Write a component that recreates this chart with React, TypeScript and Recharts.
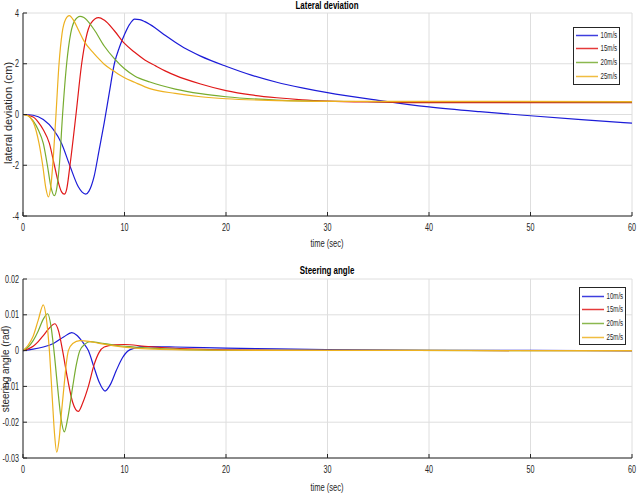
import React from 'react';
import { LineChart, Line, XAxis, YAxis, CartesianGrid } from 'recharts';

// Series identity
const speedNames = ['10m/s', '15m/s', '20m/s', '25m/s'];
const speedColors = ['#1c1cd8', '#e01818', '#77ac30', '#edb120'];

// Axis ticks
const timeTicks = [0, 10, 20, 30, 40, 50, 60];
const latTicks = [-4, -2, 0, 2, 4];
const steerTicks = [-0.03, -0.02, -0.01, 0, 0.01, 0.02];

// Lateral deviation (cm) vs time (sec)
const latT10 = [0, 1, 2, 3, 3.8, 4.6, 5.45, 5.8, 6.18, 6.5, 7, 7.5, 8, 8.5, 9, 9.5, 10, 10.5, 11, 11.5, 12, 13, 14, 15, 16, 17.5, 20, 22.5, 25, 27.5, 30, 35, 40, 45, 50, 55, 60];
const latV10 = [0, -0.03, -0.2, -0.6, -1.14, -2.0, -2.85, -3.05, -3.14, -3.02, -2.45, -1.4, -0.33, 0.85, 2.0, 2.65, 3.15, 3.55, 3.76, 3.74, 3.66, 3.42, 3.12, 2.85, 2.6, 2.3, 1.9, 1.55, 1.27, 1.05, 0.86, 0.56, 0.3, 0.11, -0.05, -0.2, -0.34];

const latT15 = [0, 1, 1.5, 2, 2.6, 3.09, 3.5, 3.8, 4.07, 4.3, 4.63, 5.22, 5.78, 6.2, 6.7, 7.45, 8, 9, 10, 11, 12, 13, 14, 15, 17.5, 20, 22.5, 25, 27.5, 30, 35, 40, 60];
const latV15 = [0, -0.1, -0.3, -0.6, -1.14, -2.0, -2.7, -3.05, -3.14, -2.95, -2.0, 0, 2.0, 3.0, 3.6, 3.82, 3.72, 3.3, 2.8, 2.45, 2.15, 1.93, 1.72, 1.54, 1.2, 0.94, 0.77, 0.66, 0.58, 0.53, 0.49, 0.47, 0.47];

const latT20 = [0, 0.5, 1, 1.5, 2, 2.4, 2.75, 3.09, 3.35, 3.6, 3.9, 4.3, 4.7, 5.1, 5.62, 6, 7, 8, 9, 10, 11, 12.5, 15, 17.5, 20, 25, 30, 35, 60];
const latV20 = [0, -0.05, -0.25, -0.6, -1.14, -2.0, -2.85, -3.2, -2.85, -1.9, 0, 2.0, 3.2, 3.7, 3.87, 3.82, 3.35, 2.7, 2.2, 1.8, 1.52, 1.28, 1.0, 0.82, 0.7, 0.57, 0.52, 0.51, 0.5];

const latT25 = [0, 0.5, 1, 1.3, 1.58, 1.94, 2.25, 2.5, 2.75, 3, 3.25, 3.55, 3.85, 4.2, 4.56, 5, 5.5, 6, 7, 7.6, 8, 9, 10, 11, 12.5, 15, 17.5, 20, 25, 30, 60];
const latV25 = [0, -0.05, -0.3, -0.65, -1.14, -2.0, -2.9, -3.25, -2.8, -1.6, 0, 2.0, 3.2, 3.75, 3.9, 3.7, 3.3, 2.9, 2.4, 2.14, 1.98, 1.7, 1.45, 1.27, 1.02, 0.83, 0.7, 0.62, 0.55, 0.52, 0.51];

// Steering angle (rad) vs time (sec)
const stT10 = [0, 1, 2, 3, 4, 4.8, 5.3, 5.9, 6.44, 7, 7.5, 8.08, 8.6, 9.2, 9.8, 10.3, 11, 12, 15, 20, 25, 30, 40, 50, 60];
const stV10 = [0, 0.0004, 0.001, 0.002, 0.0038, 0.005, 0.0043, 0.0023, 0, -0.0047, -0.0088, -0.0113, -0.0095, -0.0055, -0.002, -0.0002, 0.0007, 0.0011, 0.001, 0.0007, 0.0005, 0.0003, 0.0001, 0.00005, 0];

const stT15 = [0, 1, 1.5, 2, 2.5, 3.15, 3.5, 3.9, 4.4, 4.9, 5.45, 5.9, 6.44, 7, 7.5, 8, 9, 10, 12, 14, 17, 20, 25, 60];
const stV15 = [0, 0.0012, 0.0025, 0.0042, 0.006, 0.0075, 0.0055, 0, -0.008, -0.0145, -0.017, -0.0145, -0.01, -0.004, -0.0005, 0.001, 0.0016, 0.0017, 0.0012, 0.0008, 0.0004, 0.0002, 0.0001, 0];

const stT20 = [0, 0.5, 1, 1.5, 2, 2.43, 2.75, 3.05, 3.4, 3.75, 4.07, 4.4, 4.9, 5.25, 5.6, 6.1, 6.6, 7.5, 9, 11, 13, 16, 20, 60];
const stV20 = [0, 0.001, 0.0028, 0.0055, 0.0088, 0.0103, 0.007, 0, -0.01, -0.019, -0.0227, -0.019, -0.01, -0.004, 0, 0.0018, 0.0025, 0.0022, 0.0015, 0.001, 0.0006, 0.0003, 0.0001, 0];

const stT25 = [0, 0.5, 1, 1.5, 2, 2.3, 2.6, 2.9, 3.1, 3.32, 3.55, 3.8, 4.04, 4.25, 4.47, 4.9, 5.6, 6.5, 7.5, 9, 11, 13, 16, 20, 60];
const stV25 = [0, 0.0015, 0.004, 0.0085, 0.0128, 0.009, 0, -0.014, -0.023, -0.0284, -0.025, -0.017, -0.01, -0.004, 0, 0.002, 0.0028, 0.0026, 0.002, 0.0013, 0.0007, 0.0004, 0.0002, 0.0001, 0];

const zip = (ts: number[], vs: number[]) => ts.map((t, i) => ({ t, v: vs[i] }));

const latSeries = [zip(latT10, latV10), zip(latT15, latV15), zip(latT20, latV20), zip(latT25, latV25)];
const steerSeries = [zip(stT10, stV10), zip(stT15, stV15), zip(stT20, stV20), zip(stT25, stV25)];

const FONT = '"Liberation Sans", Arial, sans-serif';
const INK = '#262626';
const GRID = '#dedede';
const SQUEEZE = 0.72;

const fmt = (v: number) => String(+v.toFixed(2));

// Condensed tick labels, MATLAB style
function XTick(props: any) {
  const { x, y, payload } = props;
  return (
    <text
      transform={`translate(${x},${y}) scale(${SQUEEZE},1)`}
      textAnchor="middle"
      dy="0.71em"
      fontSize={10}
      fontFamily={FONT}
      fill={INK}
    >
      {fmt(payload.value)}
    </text>
  );
}

function YTick(props: any) {
  const { x, y, payload } = props;
  return (
    <text
      transform={`translate(${x},${y}) scale(${SQUEEZE},1)`}
      textAnchor="end"
      dy="0.35em"
      fontSize={10}
      fontFamily={FONT}
      fill={INK}
    >
      {fmt(payload.value)}
    </text>
  );
}

type PanelProps = {
  top: number;
  height: number;
  marginTop: number;
  marginBottom: number;
  series: { t: number; v: number }[][];
  yTicks: number[];
};

function Panel({ top, height, marginTop, marginBottom, series, yTicks }: PanelProps) {
  const yDomain: [number, number] = [yTicks[0], yTicks[yTicks.length - 1]];
  return (
    <div style={{ position: 'absolute', left: 0, top, width: 640, height }}>
      <LineChart width={640} height={height} margin={{ top: marginTop, right: 8, bottom: marginBottom, left: 0 }}>
        <CartesianGrid stroke={GRID} strokeWidth={1} />
        <XAxis
          xAxisId={0}
          type="number"
          dataKey="t"
          domain={[0, 60]}
          ticks={timeTicks}
          allowDataOverflow
          height={20}
          stroke={INK}
          tickSize={-4}
          tickMargin={12}
          tick={<XTick />}
          interval={0}
        />
        <XAxis
          xAxisId="top"
          orientation="top"
          type="number"
          domain={[0, 60]}
          ticks={timeTicks}
          height={0}
          stroke={INK}
          tickSize={-4}
          tick={false}
          interval={0}
        />
        <YAxis
          yAxisId={0}
          type="number"
          domain={yDomain}
          ticks={yTicks}
          allowDataOverflow
          width={23}
          stroke={INK}
          tickSize={-4}
          tickMargin={8}
          tick={<YTick />}
          interval={0}
        />
        <YAxis
          yAxisId="right"
          orientation="right"
          type="number"
          domain={yDomain}
          ticks={yTicks}
          width={0}
          stroke={INK}
          tickSize={-4}
          tick={false}
          interval={0}
        />
        {series.map((d, i) => (
          <Line
            key={speedNames[i]}
            data={d}
            dataKey="v"
            name={speedNames[i]}
            type="monotone"
            stroke={speedColors[i]}
            strokeWidth={1.2}
            dot={false}
            isAnimationActive={false}
          />
        ))}
      </LineChart>
    </div>
  );
}

function LegendBox({ left, top, rowTops }: { left: number; top: number; rowTops: number[] }) {
  const w = 47;
  const h = 58;
  return (
    <div style={{ position: 'absolute', left, top, width: w, height: h }}>
      <svg width={w} height={h} style={{ position: 'absolute', left: 0, top: 0 }}>
        <rect x={0.5} y={0.5} width={w - 1} height={h - 1} fill="#fff" stroke={INK} strokeWidth={1} />
        {speedNames.map((name, i) => {
          const yy = Math.round(rowTops[i]) + 0.5;
          return (
            <line key={name} x1={3} x2={25} y1={yy} y2={yy} stroke={speedColors[i]} strokeWidth={1.5} strokeOpacity={0.85} />
          );
        })}
      </svg>
      {speedNames.map((name, i) => (
        <div
          key={name}
          style={{
            position: 'absolute',
            right: 3,
            top: Math.round(rowTops[i]) - 5,
            fontFamily: FONT,
            fontSize: 8.5,
            lineHeight: '11px',
            color: INK,
            whiteSpace: 'nowrap',
            transform: `scaleX(${SQUEEZE})`,
            transformOrigin: 'right center',
          }}
        >
          {name}
        </div>
      ))}
    </div>
  );
}

const centered = (x: number, y: number, tf: string, extra: React.CSSProperties = {}): React.CSSProperties => ({
  position: 'absolute',
  left: x,
  top: y,
  transform: `translate(-50%, -50%) ${tf}`,
  whiteSpace: 'nowrap',
  color: INK,
  fontFamily: FONT,
  lineHeight: 1,
  ...extra,
});

export default function App() {
  const squeeze = `scaleX(${SQUEEZE})`;
  return (
    <div style={{ position: 'absolute', left: 0, top: 0, width: 640, height: 496, background: '#fff', overflow: 'hidden' }}>
      <Panel top={0} height={250} marginTop={13} marginBottom={14} series={latSeries} yTicks={latTicks} />
      <Panel top={250} height={246} marginTop={29} marginBottom={18} series={steerSeries} yTicks={steerTicks} />

      <div style={centered(327, 5, squeeze, { fontSize: 11, fontWeight: 'bold', color: '#000' })}>Lateral deviation</div>
      <div style={centered(327, 270, squeeze, { fontSize: 11, fontWeight: 'bold', color: '#000' })}>Steering angle</div>

      <div style={centered(327, 243, squeeze, { fontSize: 10.5 })}>time (sec)</div>
      <div style={centered(327, 487, squeeze, { fontSize: 10.5 })}>time (sec)</div>

      <div style={centered(8, 113, 'rotate(-90deg)', { fontSize: 11 })}>lateral deviation (cm)</div>
      <div style={centered(6, 369, 'rotate(-90deg)', { fontSize: 10 })}>steering angle (rad)</div>

      <LegendBox left={573} top={27} rowTops={[7.5, 21.3, 35.2, 49]} />
      <LegendBox left={579} top={287} rowTops={[8.7, 22.3, 35.7, 49.7]} />
    </div>
  );
}
